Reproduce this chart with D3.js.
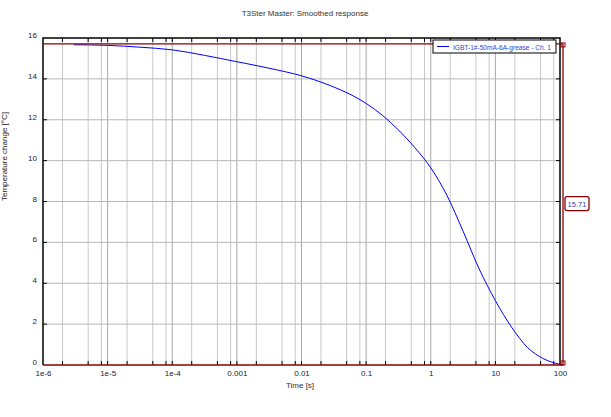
<!DOCTYPE html>
<html>
<head>
<meta charset="utf-8">
<script src="https://cdn.jsdelivr.net/npm/d3@7"></script>
<style>
  body { margin: 0; background: #fff; }
  text { font-family: "Liberation Sans", Arial, sans-serif; }
</style>
</head>
<body>
<svg id="chart" width="611" height="417"></svg>
<script>
const svg = d3.select("#chart");
const width = +svg.attr("width");
const height = +svg.attr("height");

// Data
const timeValues = [3e-6, 1e-5, 3.16e-5, 1e-4, 3.16e-4, 1e-3, 3.16e-3, 1e-2, 1.78e-2, 3.16e-2, 5.62e-2, 0.1, 0.178, 0.316, 0.562, 1, 1.78, 3.16, 5.62, 10, 17.8, 31.6, 56.2, 100];
const responseValues = [15.67, 15.64, 15.55, 15.42, 15.15, 14.84, 14.52, 14.15, 13.9, 13.6, 13.25, 12.8, 12.22, 11.5, 10.65, 9.65, 8.3, 6.55, 4.7, 3.15, 1.85, 0.85, 0.3, 0.03];
const xTickValues = [1e-6, 1e-5, 1e-4, 1e-3, 1e-2, 1e-1, 1, 10, 100];
const xTickLabels = ["1e-6", "1e-5", "1e-4", "0.001", "0.01", "0.1", "1", "10", "100"];
const yTickValues = [0, 2, 4, 6, 8, 10, 12, 14, 16];
const cursorValue = 15.71;
const seriesName = "IGBT-1#-50mA-6A-grease - Ch. 1";
const plotTitle = "T3Ster Master: Smoothed response";
const xTitle = "Time [s]";
const yTitle = "Temperature change [°C]";

const margin = { top: 38, bottom: 52, left: 43, right: 51 };
const innerWidth = width - margin.left - margin.right;
const innerHeight = height - margin.top - margin.bottom;

const xScale = d3.scaleLog().domain([1e-6, 100]).range([0, innerWidth]);
const yScale = d3.scaleLinear().domain([0, 16]).range([innerHeight, 0]);

const g = svg.append("g").attr("transform", `translate(${margin.left},${margin.top})`);

// grid positions: 2, 5, 8, 10 of each decade
const gridX = [];
for (let e = -6; e < 2; e++) {
  [2, 5, 8].forEach((m) => gridX.push({ v: m * Math.pow(10, e), major: false }));
  gridX.push({ v: Math.pow(10, e + 1), major: true });
}
const innerGridX = gridX.filter((d) => d.v < 100);
const innerGridY = yTickValues.filter((d) => d > 0 && d < 16);

g.selectAll(".vgrid")
  .data(innerGridX)
  .enter()
  .append("line")
  .attr("x1", (d) => xScale(d.v))
  .attr("x2", (d) => xScale(d.v))
  .attr("y1", 0)
  .attr("y2", innerHeight)
  .attr("stroke", (d) => (d.major ? "#a8a8a8" : "#c8c8c8"));

g.selectAll(".hgrid")
  .data(innerGridY)
  .enter()
  .append("line")
  .attr("x1", 0)
  .attr("x2", innerWidth)
  .attr("y1", (d) => yScale(d))
  .attr("y2", (d) => yScale(d))
  .attr("stroke", "#b8b8b8");

// small ticks inside the frame
const tickLen = 4;
[0, innerHeight - tickLen].forEach((y0) => {
  g.selectAll(null)
    .data(innerGridX)
    .enter()
    .append("line")
    .attr("x1", (d) => xScale(d.v))
    .attr("x2", (d) => xScale(d.v))
    .attr("y1", y0)
    .attr("y2", y0 + tickLen)
    .attr("stroke", "#000");
});
[0, innerWidth - tickLen].forEach((x0) => {
  g.selectAll(null)
    .data(innerGridY)
    .enter()
    .append("line")
    .attr("x1", x0)
    .attr("x2", x0 + tickLen)
    .attr("y1", (d) => yScale(d))
    .attr("y2", (d) => yScale(d))
    .attr("stroke", "#000");
});

// frame
g.append("path")
  .attr("d", `M0,${innerHeight}V0H${innerWidth}V${innerHeight}`)
  .attr("fill", "none")
  .attr("stroke", "#000")
  .attr("stroke-width", 1.5);

// axes labels
const xAxis = d3.axisBottom(xScale)
  .tickValues(xTickValues)
  .tickFormat((d, i) => xTickLabels[i])
  .tickSize(0)
  .tickPadding(5);
const xAxisG = g.append("g").attr("transform", `translate(0,${innerHeight})`).call(xAxis);
xAxisG.select(".domain").remove();
xAxisG.selectAll("text").attr("font-size", 8).attr("fill", "#223");

const yAxis = d3.axisLeft(yScale).tickValues(yTickValues).tickSize(0).tickPadding(6);
const yAxisG = g.append("g").call(yAxis);
yAxisG.select(".domain").remove();
yAxisG.selectAll("text").attr("font-size", 8).attr("fill", "#223").attr("dy", "-0.05em");

// response curve
const data = timeValues.map((t, i) => ({ t: t, v: responseValues[i] }));
const line = d3.line()
  .x((d) => xScale(d.t))
  .y((d) => yScale(d.v))
  .curve(d3.curveMonotoneX);
g.append("path")
  .datum(data)
  .attr("d", line)
  .attr("fill", "none")
  .attr("stroke", "#0000ff")
  .attr("stroke-width", 1);

// cursor lines
const cursorColor = "#8b0000";
g.append("line")
  .attr("x1", 0).attr("x2", innerWidth + 3)
  .attr("y1", yScale(cursorValue)).attr("y2", yScale(cursorValue))
  .attr("stroke", cursorColor).attr("stroke-width", 1.3);
g.append("line")
  .attr("x1", 0).attr("x2", innerWidth + 3)
  .attr("y1", yScale(0)).attr("y2", yScale(0))
  .attr("stroke", cursorColor).attr("stroke-width", 1.5);
g.append("line")
  .attr("x1", innerWidth + 3).attr("x2", innerWidth + 3)
  .attr("y1", yScale(cursorValue)).attr("y2", yScale(0))
  .attr("stroke", cursorColor).attr("stroke-width", 1.3);
[cursorValue, 0].forEach((v) => {
  g.append("rect")
    .attr("x", innerWidth + 1)
    .attr("y", yScale(v) - (v > 0 ? 1 : 4))
    .attr("width", 4)
    .attr("height", 4)
    .attr("fill", "none")
    .attr("stroke", cursorColor)
    .attr("stroke-width", 1);
});

// cursor value label
const lblY = yScale(7.9);
g.append("rect")
  .attr("x", innerWidth + 5)
  .attr("y", lblY - 7)
  .attr("width", 24)
  .attr("height", 14)
  .attr("rx", 2)
  .attr("fill", "#fff")
  .attr("stroke", cursorColor)
  .attr("stroke-width", 1.3);
g.append("text")
  .attr("x", innerWidth + 17)
  .attr("y", lblY + 3)
  .attr("text-anchor", "middle")
  .attr("font-size", 7.5)
  .attr("fill", "#3344aa")
  .text(cursorValue.toFixed(2));

// legend
const legX = 390, legY = 2;
g.append("rect")
  .attr("x", legX).attr("y", legY)
  .attr("width", 123).attr("height", 13)
  .attr("fill", "#fff").attr("stroke", "#000").attr("stroke-width", 1);
g.append("line")
  .attr("x1", legX + 4).attr("x2", legX + 16)
  .attr("y1", legY + 6.5).attr("y2", legY + 6.5)
  .attr("stroke", "#0000ff");
g.append("text")
  .attr("x", legX + 20).attr("y", legY + 9.5)
  .attr("font-size", 7.5)
  .attr("textLength", 98)
  .attr("lengthAdjust", "spacingAndGlyphs")
  .attr("fill", "#3344cc")
  .text(seriesName);

// titles
svg.append("text")
  .attr("x", 305).attr("y", 16)
  .attr("text-anchor", "middle")
  .attr("font-size", 8)
  .attr("fill", "#333")
  .text(plotTitle);
svg.append("text")
  .attr("x", 300).attr("y", 388)
  .attr("text-anchor", "middle")
  .attr("font-size", 8)
  .attr("fill", "#333")
  .text(xTitle);
svg.append("text")
  .attr("transform", `translate(7,${margin.top + innerHeight / 2 - 45}) rotate(-90)`)
  .attr("text-anchor", "middle")
  .attr("font-size", 8)
  .attr("fill", "#222")
  .text(yTitle);
</script>
</body>
</html>
